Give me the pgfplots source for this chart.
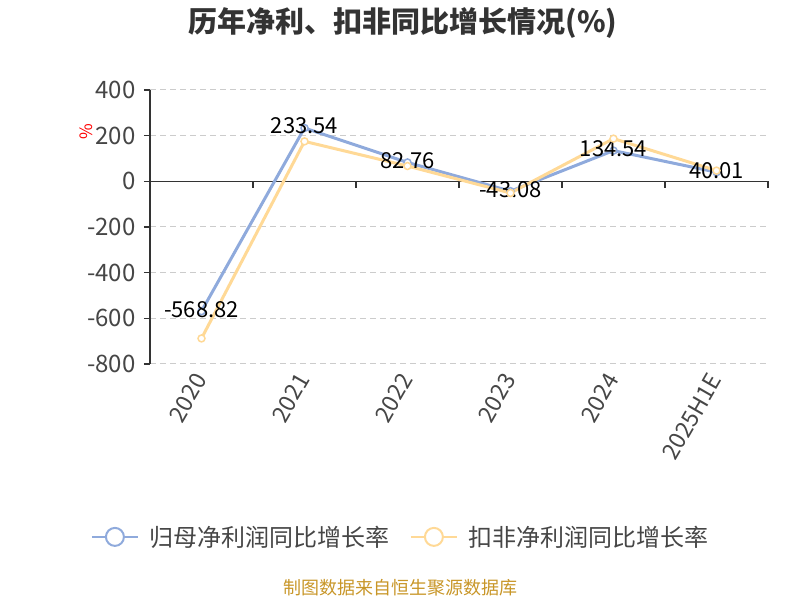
\documentclass[border=0pt]{standalone}
\usepackage{fontspec}
\setmainfont{Noto Sans CJK SC}
\usepackage{pgfplots}
\pgfplotsset{compat=1.18}

\definecolor{netblue}{RGB}{143,170,220}
\definecolor{dedorange}{RGB}{255,217,150}
\definecolor{gridgray}{RGB}{204,204,204}
\definecolor{axisgray}{RGB}{51,51,51}
\definecolor{ticktext}{RGB}{70,70,70}
\definecolor{srcgold}{RGB}{200,150,40}

\begin{document}
\begin{tikzpicture}
\path[use as bounding box] (0bp,0bp) rectangle (800bp,600bp);

\node[font=\fontsize{29bp}{32bp}\selectfont\bfseries, text=axisgray] at (403bp,577bp) {历年净利、扣非同比增长情况(\%)};
\node[font=\fontsize{18bp}{20bp}\selectfont, text=srcgold] at (400bp,12bp) {制图数据来自恒生聚源数据库};
\node[font=\fontsize{17bp}{19bp}\selectfont, text=red, rotate=90] at (86bp,468bp) {\%};

\begin{axis}[
    at={(150bp,236bp)}, anchor=south west,
    scale only axis,
    width=618bp, height=274bp,
    xmin=0, xmax=6,
    ymin=-800, ymax=400,
    ytick={-800,-600,-400,-200,0,200,400},
    xtick={0.5,1.5,2.5,3.5,4.5,5.5},
    xticklabels={2020,2021,2022,2023,2024,2025H1E},
    axis lines*=left,
    x axis line style={draw=none},
    y axis line style={draw=axisgray, line width=1.5bp},
    xtick style={draw=none},
    ytick style={draw=axisgray, line width=1.5bp},
    tick align=outside,
    major tick length=6bp,
    ymajorgrids,
    grid style={gridgray, line width=1bp, dash pattern=on 6bp off 4bp},
    /pgf/number format/assume math mode=true,
    ticklabel style={font=\fontsize{24bp}{28bp}\selectfont, text=ticktext},
    yticklabel style={xshift=-5bp},
    xticklabel style={rotate=60, anchor=east, xshift=-2bp, yshift=-2bp, font=\fontsize{23bp}{26bp}\selectfont},
    clip=false,
    legend style={at={(0.406,-0.631)}, anchor=center, draw=none, fill=none,
        font=\fontsize{24bp}{28bp}\selectfont, text=ticktext,
        legend columns=2,
        /tikz/every odd column/.append style={column sep=9bp},
        /tikz/every even column/.append style={column sep=18bp}},
    legend cell align=left,
    nodes near coords={\pgfplotspointmeta},
    point meta=explicit symbolic,
    every node near coord/.style={font=\fontsize{22bp}{25bp}\selectfont, text=black, anchor=center, yshift=2bp},
]
% zero line with category ticks
\draw[axisgray, line width=1.5bp] (axis cs:0,0) -- (axis cs:6,0);
\draw[axisgray, line width=1.5bp] (axis cs:1,0) -- ([yshift=-7bp]axis cs:1,0);
\draw[axisgray, line width=1.5bp] (axis cs:2,0) -- ([yshift=-7bp]axis cs:2,0);
\draw[axisgray, line width=1.5bp] (axis cs:3,0) -- ([yshift=-7bp]axis cs:3,0);
\draw[axisgray, line width=1.5bp] (axis cs:4,0) -- ([yshift=-7bp]axis cs:4,0);
\draw[axisgray, line width=1.5bp] (axis cs:5,0) -- ([yshift=-7bp]axis cs:5,0);
\draw[axisgray, line width=1.5bp] (axis cs:6,0) -- ([yshift=-7bp]axis cs:6,0);

\addplot[netblue, line width=3bp, mark=*, mark size=3.5bp,
    mark options={fill=white, draw=netblue, line width=1.5bp},
    legend image code/.code={
        \draw[netblue, line width=2bp] (0bp,0bp) -- (46bp,0bp);
        \draw[netblue, fill=white, line width=2bp] (23bp,0bp) circle (9bp);}]
coordinates {(0.5,-568.82) [-568.82] (1.5,233.54) [233.54] (2.5,82.76) [82.76]
             (3.5,-43.08) [-43.08] (4.5,134.54) [134.54] (5.5,40.01) [40.01]};
\addlegendentry{归母净利润同比增长率}

\addplot[dedorange, line width=3bp, mark=*, mark size=3.5bp,
    mark options={fill=white, draw=dedorange, line width=1.5bp},
    nodes near coords={},
    legend image code/.code={
        \draw[dedorange, line width=2bp] (0bp,0bp) -- (46bp,0bp);
        \draw[dedorange, fill=white, line width=2bp] (23bp,0bp) circle (9bp);}]
coordinates {(0.5,-688) [] (1.5,175) [] (2.5,67) [] (3.5,-51) [] (4.5,187) [] (5.5,47) []};
\addlegendentry{扣非净利润同比增长率}
\end{axis}
\end{tikzpicture}
\end{document}
